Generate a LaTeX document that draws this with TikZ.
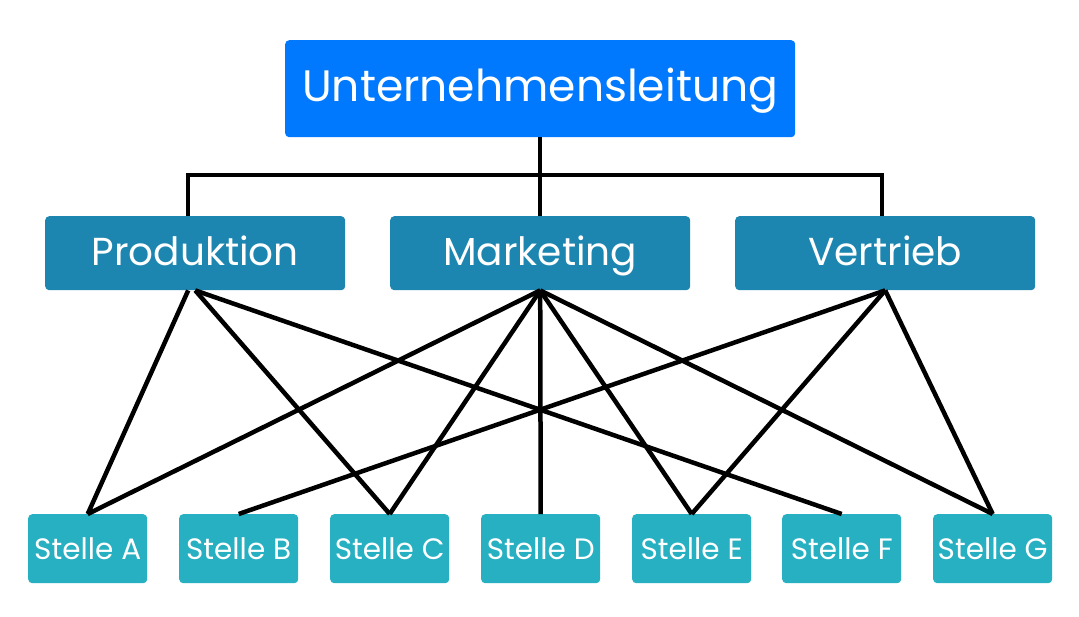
\documentclass[tikz,border=0pt]{standalone}
\usepackage{fontspec}
\setmainfont{Poppins}
\definecolor{topblue}{HTML}{0079FF}
\definecolor{midblue}{HTML}{1C86B0}
\definecolor{lowblue}{HTML}{27B0C1}
\begin{document}
\begin{tikzpicture}[x=1pt,y=-1pt,
  box/.style={rounded corners=4pt, text=white, inner sep=0pt, anchor=north west, text depth=0pt},
  topbox/.style={box, fill=topblue, text height=26pt, font=\fontsize{44}{50}\selectfont},
  midbox/.style={box, fill=midblue, text height=24pt, font=\fontsize{39}{45}\selectfont},
  lowbox/.style={box, fill=lowblue, text height=22.5pt, font=\fontsize{29.5}{34}\selectfont},
  link/.style={line width=4.5pt, black},
  tree/.style={line width=4pt, black}]
\useasboundingbox (0,0) rectangle (1079,616);
\node[topbox, minimum width=510pt, minimum height=97pt] (top) at (285,40) {Unternehmensleitung};
\node[midbox, minimum width=300pt, minimum height=74pt] (prod) at (45,216) {Produktion};
\node[midbox, minimum width=300pt, minimum height=74pt] (mark) at (390,216) {Marketing};
\node[midbox, minimum width=300pt, minimum height=74pt] (vert) at (735,216) {Vertrieb};
\foreach \n/\x/\t in {a/28/A, b/179/B, c/330/C, d/481/D, e/632/E, f/782/F, g/933/G}
  \node[lowbox, minimum width=119pt, minimum height=69pt] (s\n) at (\x,514) {Stelle \t};
\coordinate (hl) at (188,175);
\coordinate (hr) at (882,175);
\draw[tree] (top.south) -- (mark.north);
\draw[tree] ([xshift=-2pt]hl) -- ([xshift=2pt]hr);
\draw[tree] (hl) -- (hl |- prod.north);
\draw[tree] (hr) -- (hr |- vert.north);
% Produktion
\draw[link] ([xshift=-7pt]prod.south) -- (sa.north);
\draw[link] (prod.south) -- (sc.north);
\draw[link] (prod.south) -- (sf.north);
% Marketing
\draw[link] (mark.south) -- (sa.north);
\draw[link] (mark.south) -- (sc.north);
\draw[link] (mark.south) -- (sd.north);
\draw[link] (mark.south) -- (se.north);
\draw[link] (mark.south) -- (sg.north);
% Vertrieb
\draw[link] (vert.south) -- (sb.north);
\draw[link] (vert.south) -- (se.north);
\draw[link] (vert.south) -- (sg.north);
\end{tikzpicture}
\end{document}
